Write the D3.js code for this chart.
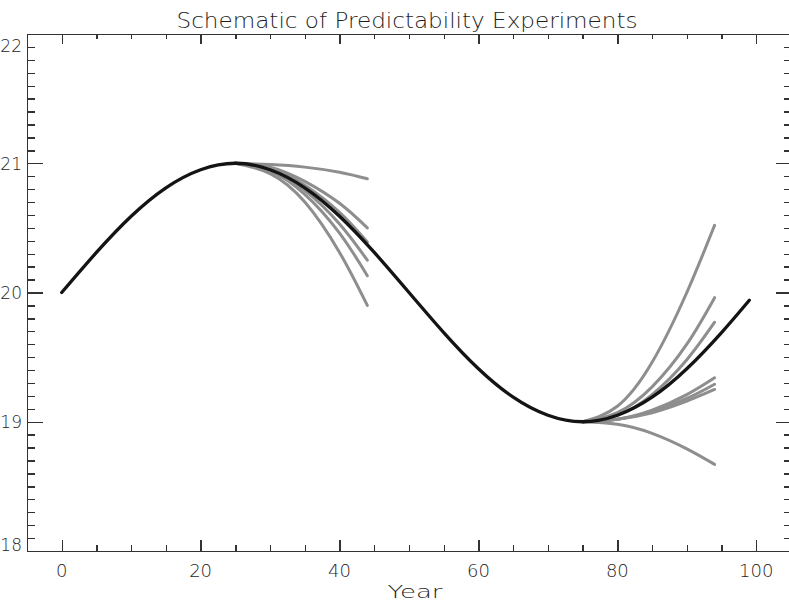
<!DOCTYPE html>
<meta charset="utf-8">
<style>
  body { margin: 0; background: #fff; }
  svg { display: block; }
  text { font-family: "DejaVu Sans", "Liberation Sans", sans-serif; font-weight: 200; fill: #1e1e1e; }
  .axis path, .axis line { stroke: #333; stroke-width: 1.4; shape-rendering: crispEdges; }
</style>
<body>
<svg width="789" height="602"></svg>
<script src="https://cdn.jsdelivr.net/npm/d3@7"></script>
<script>

// control run (black)
var years = [0, 5, 10, 15, 20, 25, 30, 35, 40, 45, 50, 55, 60, 65, 70, 75, 80, 85, 90, 95, 99];
var control = [20.00, 20.31, 20.59, 20.81, 20.95, 21.00, 20.95, 20.81, 20.59, 20.31, 20.00,
               19.69, 19.41, 19.19, 19.05, 19.00, 19.05, 19.19, 19.41, 19.69, 19.94];

// first set of predictability runs, started at year 25
var yearsA = [25, 30, 35, 40, 44];
var runsA = [
  [21.00, 20.99, 20.97, 20.93, 20.88],
  [21.00, 20.97, 20.86, 20.69, 20.50],
  [21.00, 20.96, 20.83, 20.62, 20.39],
  [21.00, 20.95, 20.79, 20.53, 20.25],
  [21.00, 20.94, 20.76, 20.46, 20.13],
  [21.00, 20.92, 20.70, 20.31, 19.90]
];

// second set, started at year 75
var yearsB = [75, 80, 85, 90, 94];
var runsB = [
  [19.00, 19.12, 19.46, 20.00, 20.52],
  [19.00, 19.07, 19.27, 19.60, 19.96],
  [19.00, 19.05, 19.21, 19.48, 19.77],
  [19.00, 19.02, 19.09, 19.21, 19.34],
  [19.00, 19.02, 19.08, 19.18, 19.29],
  [19.00, 19.02, 19.07, 19.16, 19.25],
  [19.00, 18.98, 18.91, 18.79, 18.67]
];

var xMajor = [0, 20, 40, 60, 80, 100];
var xLabels = ["0", "20", "40", "60", "80", "100"];
var yMajor = [18, 19, 20, 21, 22];
var yLabels = ["18", "19", "20", "21", "22"];
var title = "Schematic of Predictability Experiments";
var xTitle = "Year";

var svg = d3.select("svg");

var x = d3.scaleLinear().domain([-5, 105]).range([27, 791]);
var y = d3.scaleLinear().domain([18, 22]).range([551, 34]);

var xMinor = d3.range(-5, 106, 5).filter(function(d) { return xMajor.indexOf(d) < 0; });
var yMinor = d3.range(180, 221).map(function(d) { return d / 10; })
  .filter(function(d) { return yMajor.indexOf(d) < 0; });

// frame + ticks
function addAxis(axis, tx, ty) {
  svg.append("g").attr("class", "axis")
    .attr("transform", "translate(" + tx + "," + ty + ")")
    .call(axis)
    .call(function(g) { g.selectAll("text").remove(); });
}

addAxis(d3.axisBottom(x).tickValues(xMajor).tickSize(-11).tickSizeOuter(0), 0, 551);
addAxis(d3.axisBottom(x).tickValues(xMinor).tickSize(-6).tickSizeOuter(0), 0, 551);
addAxis(d3.axisTop(x).tickValues(xMajor).tickSize(-10).tickSizeOuter(0), 0, 34);
addAxis(d3.axisTop(x).tickValues(xMinor).tickSize(-5).tickSizeOuter(0), 0, 34);
addAxis(d3.axisLeft(y).tickValues(yMajor).tickSize(-16).tickSizeOuter(0), 27, 0);
addAxis(d3.axisLeft(y).tickValues(yMinor).tickSize(-8).tickSizeOuter(0), 27, 0);
addAxis(d3.axisRight(y).tickValues(yMajor).tickSize(-15).tickSizeOuter(0), 791, 0);
addAxis(d3.axisRight(y).tickValues(yMinor).tickSize(-7).tickSizeOuter(0), 791, 0);

// tick labels
svg.append("g").selectAll("text")
  .data(xMajor)
  .enter().append("text")
    .attr("x", function(d) { return x(d); })
    .attr("y", 577)
    .attr("text-anchor", "middle")
    .attr("font-size", 18)
    .text(function(d, i) { return xLabels[i]; });

svg.append("g").selectAll("text")
  .data(yMajor)
  .enter().append("text")
    .attr("x", 22)
    .attr("y", function(d) {
      // edge labels are pushed inside the frame
      if (d === 22) return y(d) + 18;
      if (d === 18) return y(d);
      return y(d) + 6.5;
    })
    .attr("text-anchor", "end")
    .attr("font-size", 17)
    .text(function(d, i) { return yLabels[i]; });

svg.append("text")
  .attr("x", 407)
  .attr("y", 28)
  .attr("text-anchor", "middle")
  .attr("font-size", 22)
  .attr("textLength", 461)
  .attr("lengthAdjust", "spacingAndGlyphs")
  .text(title);

svg.append("text")
  .attr("x", 415)
  .attr("y", 598)
  .attr("text-anchor", "middle")
  .attr("font-size", 18)
  .attr("textLength", 55)
  .attr("lengthAdjust", "spacingAndGlyphs")
  .text(xTitle);

// curves
function lineFor(xs) {
  return d3.line()
    .x(function(d, i) { return x(xs[i]); })
    .y(function(d) { return y(d); })
    .curve(d3.curveNatural);
}

var curves = svg.append("g").attr("fill", "none").attr("stroke-linecap", "round");

curves.selectAll("path.runA")
  .data(runsA)
  .enter().append("path")
    .attr("class", "runA")
    .attr("stroke", "#8e8e8e")
    .attr("stroke-width", 3)
    .attr("d", lineFor(yearsA));

curves.selectAll("path.runB")
  .data(runsB)
  .enter().append("path")
    .attr("class", "runB")
    .attr("stroke", "#8e8e8e")
    .attr("stroke-width", 3)
    .attr("d", lineFor(yearsB));

curves.append("path")
  .datum(control)
  .attr("stroke", "#141414")
  .attr("stroke-width", 3.3)
  .attr("d", lineFor(years));

</script>
</body>
